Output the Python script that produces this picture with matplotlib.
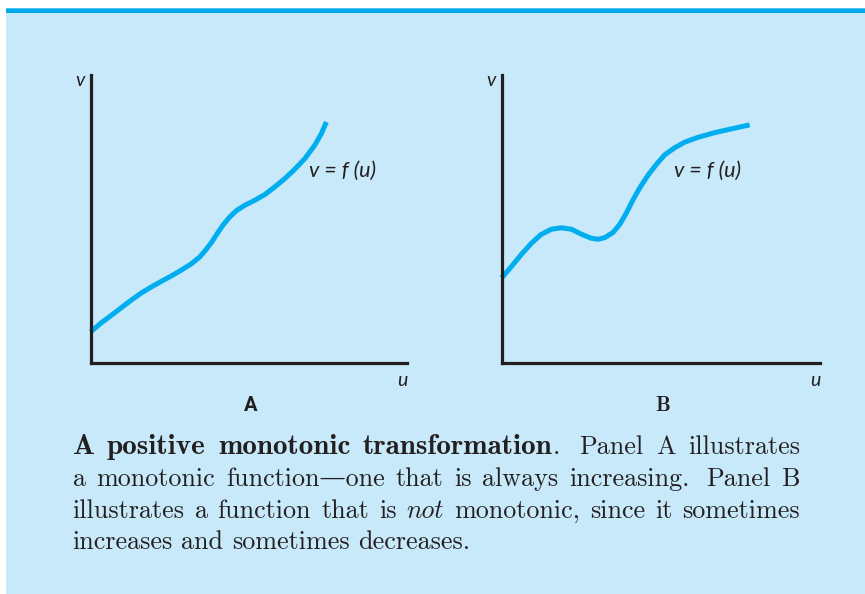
import matplotlib
matplotlib.use("Agg")
import matplotlib.pyplot as plt
from matplotlib.patches import Rectangle

# panel A: monotonic curve (u, v in axis units 0..10)
u_a = [0.00, 0.34, 0.65, 0.97, 1.28, 1.60, 1.92, 2.23, 2.55, 2.86, 3.18, 3.45, 3.65, 3.83,
       4.00, 4.18, 4.39, 4.60, 4.87, 5.18, 5.50, 5.82, 6.13, 6.45, 6.77, 7.08, 7.29, 7.45]
v_a = [1.09, 1.41, 1.66, 1.93, 2.19, 2.44, 2.65, 2.84, 3.03, 3.23, 3.45, 3.69, 3.95, 4.21,
       4.50, 4.79, 5.07, 5.29, 5.48, 5.65, 5.85, 6.12, 6.40, 6.73, 7.10, 7.56, 7.96, 8.37]

# panel B: non-monotonic curve
u_b = [0.00, 0.30, 0.62, 0.93, 1.24, 1.56, 1.87, 2.19, 2.50, 2.81, 3.03, 3.24, 3.50, 3.71,
       3.91, 4.12, 4.34, 4.60, 4.86, 5.12, 5.44, 5.75, 6.17, 6.69, 7.21, 7.79]
v_b = [2.96, 3.35, 3.78, 4.16, 4.47, 4.65, 4.70, 4.65, 4.48, 4.34, 4.30, 4.36, 4.54, 4.82,
       5.20, 5.66, 6.09, 6.53, 6.90, 7.23, 7.48, 7.67, 7.84, 8.00, 8.13, 8.27]

panel_names = ["A", "B"]
curve_label = "v = f (u)"

caption = [
    [("A positive monotonic transformation", "bold"), (". Panel A illustrates", "roman")],
    [("a monotonic function\u2014one that is always increasing. Panel B", "roman")],
    [("illustrates a function that is ", "roman"), ("not", "italic"),
     (" monotonic, since it sometimes", "roman")],
    [("increases and sometimes decreases.", "roman")],
]

W, H = 865, 594
bg = "#c7e9f9"
cyan = "#00aeef"
ink = "#231f20"

fig = plt.figure(figsize=(W / 100, H / 100), dpi=100)
fig.patch.set_facecolor("white")

# light blue box with blue rule on top
fig.patches.append(Rectangle((6 / W, 0), 1 - 6 / W, 1 - 8 / H, transform=fig.transFigure,
                             facecolor=bg, edgecolor="none", zorder=-10))
fig.patches.append(Rectangle((6 / W, 1 - 13 / H), 1 - 6 / W, 5 / H, transform=fig.transFigure,
                             facecolor="#4cc4f2", edgecolor="none", zorder=-9))
fig.patches.append(Rectangle((6 / W, 1 - 12.5 / H), 1 - 6 / W, 3.5 / H, transform=fig.transFigure,
                             facecolor="#00a9ec", edgecolor="none", zorder=-8))

sans_it = dict(family="Lato", style="italic", color=ink)
name_fonts = [dict(family="Roboto", weight="bold", fontsize=14.5),
              dict(family="cmb10", fontsize=15)]


def panel(left_px, right_px, u, v, name, name_font, label_u):
    ax = fig.add_axes([left_px / W, 1 - 363.3 / H, (right_px - left_px) / W, (363.3 - 75) / H])
    ax.set_xlim(0, 10)
    ax.set_ylim(0, 10)
    ax.patch.set_visible(False)
    for s in ["top", "right"]:
        ax.spines[s].set_visible(False)
    for s in ["left", "bottom"]:
        ax.spines[s].set_color(ink)
        ax.spines[s].set_linewidth(2.3)
    ax.set_xticks([])
    ax.set_yticks([])
    ax.plot(u, v, color=cyan, lw=3.6, solid_capstyle="butt", solid_joinstyle="round",
            clip_on=False)
    ax.text(label_u, 6.68, curve_label, fontsize=15.5, ha="center", va="center", **sans_it)
    ax.text(-0.33, 9.8, "v", fontsize=14, ha="center", va="center", **sans_it)
    ax.text(9.86, -0.59, "u", fontsize=14, ha="center", va="center", **sans_it)
    ax.text(5.05, -1.48, name, ha="center", va="center", color=ink, **name_font)
    return ax


panel(90.7, 407, u_a, v_a, panel_names[0], name_fonts[0], 7.96)
panel(501.7, 820, u_b, v_b, panel_names[1], name_fonts[1], 6.45)

# caption, justified like the printed page
fs = 18.8
fs_bold = 21.0   # cmb10 is narrower than the bold extended face of the original
styles = {
    "roman": dict(family=["cmr10", "DejaVu Serif"], fontsize=fs),
    "bold": dict(family=["cmb10", "DejaVu Serif"], fontsize=fs_bold),
    "italic": dict(family=["cmmi10", "DejaVu Serif"], fontsize=fs),
}
renderer = fig.canvas.get_renderer()
left, right = 72.5, 800.0
baselines = [454, 486, 517.5, 549]

for li, runs in enumerate(caption):
    words, cur = [], []
    for txt, st in runs:
        parts = txt.split(" ")
        for i, p in enumerate(parts):
            if i > 0 and cur:
                words.append(cur)
                cur = []
            if p:
                cur.append((p, st))
    if cur:
        words.append(cur)

    objs = []
    widths = []
    for w in words:
        segs = []
        tot = 0
        for p, st in w:
            t = fig.text(0, 0, p, color=ink, va="baseline", **styles[st])
            ww = t.get_window_extent(renderer).width
            segs.append((t, ww))
            tot += ww
        objs.append(segs)
        widths.append(tot)

    weights = [1.6 if w[-1][0].endswith(".") else 1.0 for w in words[:-1]]
    if li < len(caption) - 1:
        unit = (right - left - sum(widths)) / sum(weights)
    else:
        unit = 0.333 * fs * 100 / 72
    x = left
    y = 1 - baselines[li] / H
    for k, segs in enumerate(objs):
        for t, ww in segs:
            t.set_position((x / W, y))
            x += ww
        if k < len(weights):
            x += unit * weights[k]

fig.savefig("out.png", dpi=100, facecolor=fig.get_facecolor())
